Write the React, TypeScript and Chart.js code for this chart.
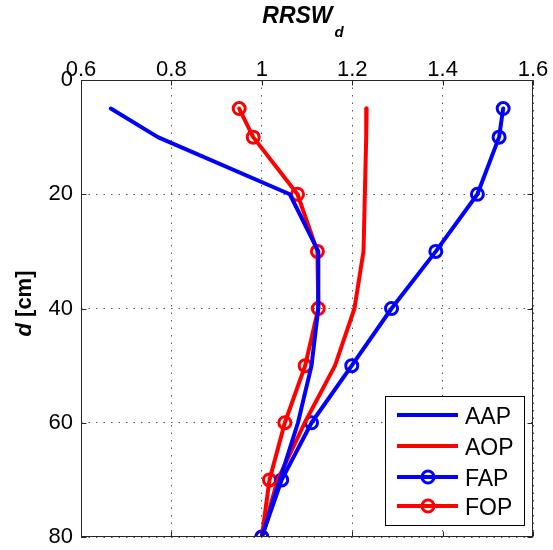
import React, { useEffect, useRef } from 'react';
import { Chart, registerables } from 'chart.js';

Chart.register(...registerables);

// Depth (cm) at which each series was sampled
const depthCm = [5, 10, 20, 30, 40, 50, 60, 70, 80];

// RRSW_d values per series
const aapValues = [0.666, 0.77, 1.062, 1.125, 1.125, 1.11, 1.08, 1.04, 1.0];
const aopValues = [1.232, 1.231, 1.228, 1.225, 1.205, 1.162, 1.095, 1.035, 1.0];
const fapValues = [1.534, 1.525, 1.477, 1.385, 1.287, 1.199, 1.11, 1.044, 1.0];
const fopValues = [0.95, 0.981, 1.079, 1.123, 1.125, 1.096, 1.051, 1.017, 1.0];

const seriesLabels = ['AAP', 'AOP', 'FAP', 'FOP'];
const seriesColors = ['#0000ff', '#ff0000', '#0000ff', '#ff0000'];
const seriesMarkers = [false, false, true, true];

const xTickValues = [0.6, 0.8, 1, 1.2, 1.4, 1.6];
const yTickValues = [0, 20, 40, 60, 80];

const xTitleMain = 'RRSW';
const xTitleSub = 'd';
const yTitleVar = 'd';
const yTitleUnit = ' [cm]';

const FONT = '"Liberation Sans", Arial, Helvetica, sans-serif';

const decorPlugin = {
  id: 'decor',
  afterDraw(chart: any) {
    const { ctx, chartArea: a, scales } = chart;
    const xs = scales.x;
    const ys = scales.y;
    ctx.save();
    ctx.setLineDash([]);
    const L = Math.round(a.left) + 0.5;
    const R = Math.round(a.right) - 0.5;
    const T = Math.round(a.top) + 0.5;
    const B = Math.round(a.bottom) - 0.5;
    ctx.strokeStyle = '#262626';
    ctx.lineWidth = 1;
    ctx.strokeRect(L, T, R - L, B - T);
    ctx.beginPath();
    xTickValues.forEach((v) => {
      const p = Math.round(xs.getPixelForValue(v)) + 0.5;
      ctx.moveTo(p, T);
      ctx.lineTo(p, T + 5);
      ctx.moveTo(p, B);
      ctx.lineTo(p, B - 5);
    });
    yTickValues.forEach((v) => {
      const p = Math.round(ys.getPixelForValue(v)) + 0.5;
      ctx.moveTo(L, p);
      ctx.lineTo(L + 5, p);
      ctx.moveTo(R, p);
      ctx.lineTo(R - 5, p);
    });
    ctx.stroke();

    // X axis title: RRSW with subscript d
    ctx.fillStyle = '#000';
    ctx.textBaseline = 'alphabetic';
    ctx.textAlign = 'left';
    const mainFont = `italic bold 23px ${FONT}`;
    const subFont = `italic bold 15px ${FONT}`;
    ctx.font = mainFont;
    const w1 = ctx.measureText(xTitleMain).width;
    ctx.font = subFont;
    const w2 = ctx.measureText(xTitleSub).width;
    const cx = (a.left + a.right) / 2 - 4;
    const x0 = cx - (w1 + w2 + 2) / 2;
    ctx.font = mainFont;
    ctx.fillText(xTitleMain, x0, 23);
    ctx.font = subFont;
    ctx.fillText(xTitleSub, x0 + w1 + 2, 37);

    // Y axis title: d [cm], rotated
    ctx.save();
    ctx.translate(31, (a.top + a.bottom) / 2 - 5);
    ctx.rotate(-Math.PI / 2);
    const vFont = `italic bold 22px ${FONT}`;
    const uFont = `bold 22px ${FONT}`;
    ctx.font = vFont;
    const wv = ctx.measureText(yTitleVar).width;
    ctx.font = uFont;
    const wu = ctx.measureText(yTitleUnit).width;
    const sx = -(wv + wu) / 2;
    ctx.font = vFont;
    ctx.fillText(yTitleVar, sx, 0);
    ctx.font = uFont;
    ctx.fillText(yTitleUnit, sx + wv, 0);
    ctx.restore();

    // Legend box
    const lx = 385.5;
    const ly = 396.5;
    const lw = 139;
    const lh = 129;
    ctx.fillStyle = '#ffffff';
    ctx.fillRect(lx, ly, lw, lh);
    ctx.strokeStyle = '#000';
    ctx.lineWidth = 1;
    ctx.strokeRect(lx, ly, lw, lh);
    const rowCenters = [415, 446, 477, 506];
    chart.data.datasets.forEach((ds: any, i: number) => {
      const yc = rowCenters[i];
      ctx.strokeStyle = ds.borderColor;
      ctx.lineWidth = 4;
      ctx.beginPath();
      ctx.moveTo(397, yc);
      ctx.lineTo(458, yc);
      ctx.stroke();
      if (seriesMarkers[i]) {
        ctx.lineWidth = 3;
        ctx.beginPath();
        ctx.arc(428, yc, 6, 0, Math.PI * 2);
        ctx.stroke();
      }
      ctx.fillStyle = '#000';
      ctx.font = `23px ${FONT}`;
      ctx.textBaseline = 'alphabetic';
      ctx.fillText(ds.label, 465, yc + 8.5);
    });
    ctx.restore();
  },
};

export default function App() {
  const ref = useRef<HTMLCanvasElement>(null);

  useEffect(() => {
    if (!ref.current) return;
    const all = [aapValues, aopValues, fapValues, fopValues];
    const datasets = all.map((vals, i) => ({
      label: seriesLabels[i],
      data: depthCm.map((d, j) => ({ x: vals[j], y: d })),
      showLine: true,
      borderColor: seriesColors[i],
      backgroundColor: seriesColors[i],
      borderWidth: 4,
      borderJoinStyle: 'round',
      borderCapStyle: 'round',
      pointRadius: seriesMarkers[i] ? 6 : 0,
      pointHoverRadius: seriesMarkers[i] ? 6 : 0,
      pointBorderWidth: 3,
      pointBorderColor: seriesColors[i],
      pointBackgroundColor: 'rgba(0,0,0,0)',
      tension: 0,
    }));

    const chart = new Chart(ref.current, {
      type: 'scatter',
      data: { datasets } as any,
      options: {
        animation: false,
        responsive: false,
        devicePixelRatio: 1,
        layout: { padding: { left: 0, right: 20, top: 0, bottom: 13 } },
        plugins: {
          legend: { display: false },
          tooltip: { enabled: false },
        },
        scales: {
          x: {
            type: 'linear',
            position: 'top',
            min: 0.6,
            max: 1.6,
            afterBuildTicks: (s: any) => {
              s.ticks = xTickValues.map((v) => ({ value: v }));
            },
            afterFit: (s: any) => {
              s.height = 80;
              s.paddingLeft = 0;
              s.paddingRight = 0;
            },
            ticks: {
              color: '#000',
              font: { family: FONT, size: 22 },
              padding: -3,
              maxRotation: 0,
              callback: (v: any) => String(Math.round(Number(v) * 10) / 10),
            },
            grid: {
              color: '#555',
              lineWidth: 1,
              drawTicks: false,
            },
            border: { display: false, dash: [1.5, 6] },
          },
          y: {
            type: 'linear',
            position: 'left',
            reverse: true,
            min: 0,
            max: 80,
            afterBuildTicks: (s: any) => {
              s.ticks = yTickValues.map((v) => ({ value: v }));
            },
            afterFit: (s: any) => {
              s.width = 81;
              s.paddingTop = 0;
              s.paddingBottom = 0;
            },
            ticks: {
              color: '#000',
              font: { family: FONT, size: 22 },
              padding: 8,
              callback: (v: any) => String(v),
            },
            grid: {
              color: '#555',
              lineWidth: 1,
              drawTicks: false,
            },
            border: { display: false, dash: [1.5, 6] },
          },
        },
      } as any,
      plugins: [decorPlugin],
    });
    return () => chart.destroy();
  }, []);

  return (
    <div style={{ position: 'absolute', left: 0, top: 0, width: 553, height: 550, background: '#fff' }}>
      <canvas ref={ref} width={553} height={550} style={{ display: 'block' }} />
    </div>
  );
}
